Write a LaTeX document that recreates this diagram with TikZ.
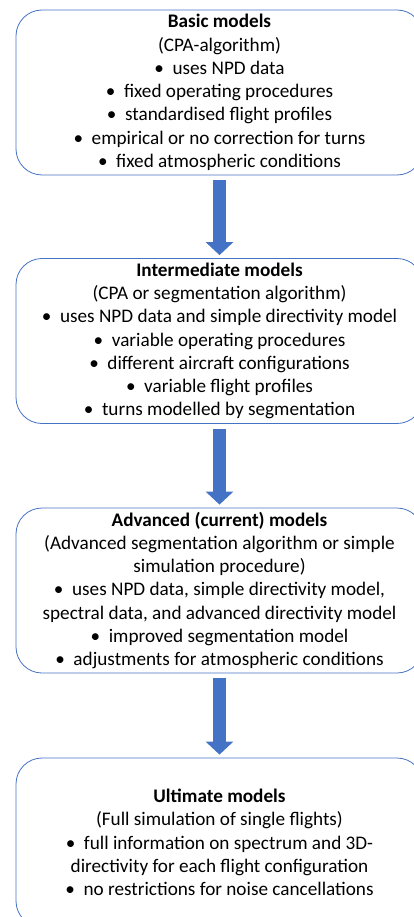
\documentclass[tikz,border=0pt]{standalone}
\usepackage{fontspec}
\setmainfont{Carlito}
\usetikzlibrary{arrows.meta}
\definecolor{boxblue}{HTML}{4472C4}
\tikzset{
  model/.style={draw=boxblue, line width=0.8pt, rounded corners=26pt, minimum width=407pt, minimum height=165pt, align=center, inner sep=0pt, font={\fontsize{19.2}{23.3}\selectfont}},
  flow/.style={draw=boxblue, line width=13.3pt, -{Triangle[width=27pt,length=13pt]}, shorten <=5pt, shorten >=3pt}
}
\newcommand{\bul}{\textbullet\hspace{0.45em}}
\begin{document}
\begin{tikzpicture}[x=1pt, y=-1pt]
\clip (0,0) rectangle (414,917);
\node[model] (basic) at (219.5,92.5) {\textbf{Basic models}\\ (CPA-algorithm)\\ \bul uses NPD data\\ \bul fixed operating procedures\\ \bul standardised flight profiles\\ \bul empirical or no correction for turns\\ \bul fixed atmospheric conditions};
\node[model] (inter) at (219.5,341) {\textbf{Intermediate models}\\ (CPA or segmentation algorithm)\\ \bul uses NPD data and simple directivity model\\ \bul variable operating procedures\\ \bul different aircraft configurations\\ \bul variable flight profiles\\ \bul turns modelled by segmentation};
\node[model] (adv) at (219.5,590.5) {\textbf{Advanced (current) models}\\ (Advanced segmentation algorithm or simple\\ simulation procedure)\\ \bul uses NPD data, simple directivity model,\\ spectral data, and advanced directivity model\\ \bul improved segmentation model\\ \bul adjustments for atmospheric conditions};
\node[model, minimum height=169pt] (ult) at (219.5,842.5) {\textbf{Ultimate models}\\ (Full simulation of single flights)\\ \bul full information on spectrum and 3D-\\ directivity for each flight configuration\\ \bul no restrictions for noise cancellations};
\draw[flow] (basic) -- (inter);
\draw[flow] (inter) -- (adv);
\draw[flow] (adv) -- (ult);
\end{tikzpicture}
\end{document}
